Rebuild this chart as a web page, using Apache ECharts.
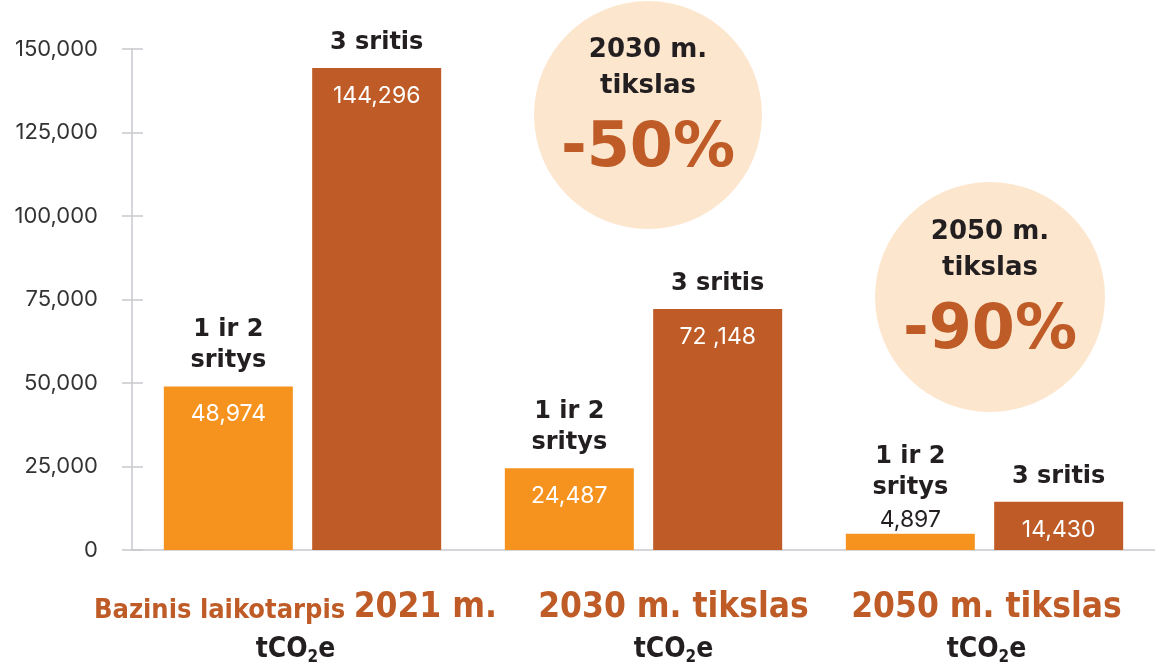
<!DOCTYPE html>
<html>
<head>
<meta charset="utf-8">
<script src="https://cdn.jsdelivr.net/npm/echarts@6/dist/echarts.min.js"></script>
<style>
  html, body { margin: 0; padding: 0; background: #fff; }
  #chart { width: 1155px; height: 662px; }
</style>
</head>
<body>
<div id="chart"></div>
<script>
// duomenys
const categories = ['Bazinis laikotarpis 2021 m.', '2030 m. tikslas', '2050 m. tikslas']
const seriesNames = ['1 ir 2\nsritys', '3 sritis']
const scope12 = [48974, 24487, 4897]
const scope3 = [144296, 72148, 14430]
const scope12Labels = ['48,974', '24,487', '4,897']
const scope3Labels = ['144,296', '72 ,148', '14,430']
const yTicks = [0, 25000, 50000, 75000, 100000, 125000, 150000]
const targets = [
  { title: '2030 m.\ntikslas', pct: '-50%' },
  { title: '2050 m.\ntikslas', pct: '-90%' }
]

const ORANGE = '#F6921E'
const BROWN = '#BE5B26'
const DARK = '#231F20'
const GREY = '#C9C9CE'
const PEACH = '#FDE6CE'
const COND = '"DejaVu Sans Condensed", "Liberation Sans Narrow", sans-serif'
const BOLD = '"DejaVu Sans", sans-serif'
const NUM = 'Inter, Roboto, sans-serif'

// kategoriju uzrasu poslinkis (kaip originale)
const labelPads = [[0, 14, 0, 0], [0, 0, 0, 60], [0, 0, 0, 4]]

function barLabel (names, valueLabels, small) {
  return function (p) {
    let lines = names.split('\n').map(s => '{n|' + s + '}')
    lines.push((small(p.value) ? '{d|' : '{v|') + valueLabels[p.dataIndex] + '}')
    return lines.join('\n')
  }
}

function makeData (values) {
  return values.map(v => {
    // per mazas stulpelis - reiksme virs jo
    if (v < 10000) {
      return { value: v, label: { offset: [0, 2] } }
    }
    return v
  })
}

const labelRich = {
  n: { fontFamily: BOLD, fontWeight: 'bold', fontSize: 24, color: DARK, lineHeight: 31 },
  v: { fontFamily: NUM, fontSize: 23, color: '#fff', lineHeight: 76 },
  d: { fontFamily: NUM, fontSize: 23, color: DARK, lineHeight: 32 }
}

function seriesData () {
  return [scope12, scope3].map((vals, i) => {
    return {
      name: seriesNames[i],
      type: 'bar',
      barWidth: 129,
      barGap: '15%',
      data: makeData(vals),
      itemStyle: { color: i === 0 ? ORANGE : BROWN },
      label: {
        show: true,
        position: 'top',
        distance: 0,
        offset: [0, 66],
        formatter: barLabel(seriesNames[i], i === 0 ? scope12Labels : scope3Labels, v => v < 10000),
        rich: labelRich
      },
      emphasis: { disabled: true }
    }
  })
}

function targetCircle (cx, cy, r, t) {
  let lines = t.title.split('\n')
  return {
    type: 'group',
    z: -1,
    children: [
      { type: 'circle', shape: { cx: cx, cy: cy, r: r }, style: { fill: PEACH } },
      { type: 'text', style: { text: lines[0], x: cx, y: cy - 65, align: 'center', verticalAlign: 'middle', fill: DARK, font: 'bold 26px ' + BOLD } },
      { type: 'text', style: { text: lines[1], x: cx, y: cy - 29, align: 'center', verticalAlign: 'middle', fill: DARK, font: 'bold 26px ' + BOLD } },
      { type: 'text', style: { text: t.pct, x: cx, y: cy + 35, align: 'center', verticalAlign: 'middle', fill: BROWN, font: 'bold 62px ' + BOLD } }
    ]
  }
}

let chart = echarts.init(document.getElementById('chart'))
let option = {
  animation: false,
  grid: { left: 132, right: 0, top: 49, bottom: 112, outerBoundsMode: 'none' },
  xAxis: {
    type: 'category',
    data: categories.map((c, i) => ({ value: c, textStyle: { padding: labelPads[i] } })),
    axisLine: { lineStyle: { color: GREY, width: 1.5 } },
    axisTick: { show: false },
    axisLabel: {
      interval: 0,
      margin: 36,
      formatter: function (value) {
        let m = value.match(/^(\D*)(.*)$/)
        let first = (m[1] ? '{a|' + m[1] + '}' : '') + '{b|' + m[2] + '}'
        return first + '\n{u|tCO}{s|2}{u|e}'
      },
      rich: {
        a: { fontFamily: COND, fontWeight: 'bold', fontSize: 27, color: BROWN, lineHeight: 44, padding: [5, 0, 0, 0] },
        b: { fontFamily: COND, fontWeight: 'bold', fontSize: 35, color: BROWN, lineHeight: 44 },
        u: { fontFamily: COND, fontWeight: 'bold', fontSize: 28, color: DARK, lineHeight: 40 },
        s: { fontFamily: COND, fontWeight: 'bold', fontSize: 17, color: DARK, lineHeight: 40, padding: [16, 0, 0, 0] }
      }
    }
  },
  yAxis: [
    {
      type: 'value',
      min: yTicks[0],
      max: yTicks[yTicks.length - 1],
      interval: yTicks[1] - yTicks[0],
      axisLine: { show: true, lineStyle: { color: GREY, width: 1.5 } },
      axisTick: { show: true, length: 10, lineStyle: { color: GREY, width: 1.5 } },
      splitLine: { show: false },
      axisLabel: {
        margin: 34,
        fontFamily: NUM,
        fontSize: 22,
        color: '#333',
        formatter: v => v.toLocaleString('en-US')
      }
    },
    {
      type: 'value',
      min: yTicks[0],
      max: yTicks[yTicks.length - 1],
      interval: yTicks[1] - yTicks[0],
      position: 'left',
      axisLine: { show: false },
      axisTick: { show: true, inside: true, length: 11, lineStyle: { color: GREY, width: 1.5 } },
      splitLine: { show: false },
      axisLabel: { show: false }
    }
  ],
  series: seriesData(),
  graphic: [
    targetCircle(648, 115, 114, targets[0]),
    targetCircle(990, 297, 115, targets[1])
  ]
}
chart.setOption(option)
window.addEventListener('resize', () => {
  chart.resize()
})
</script>
</body>
</html>
